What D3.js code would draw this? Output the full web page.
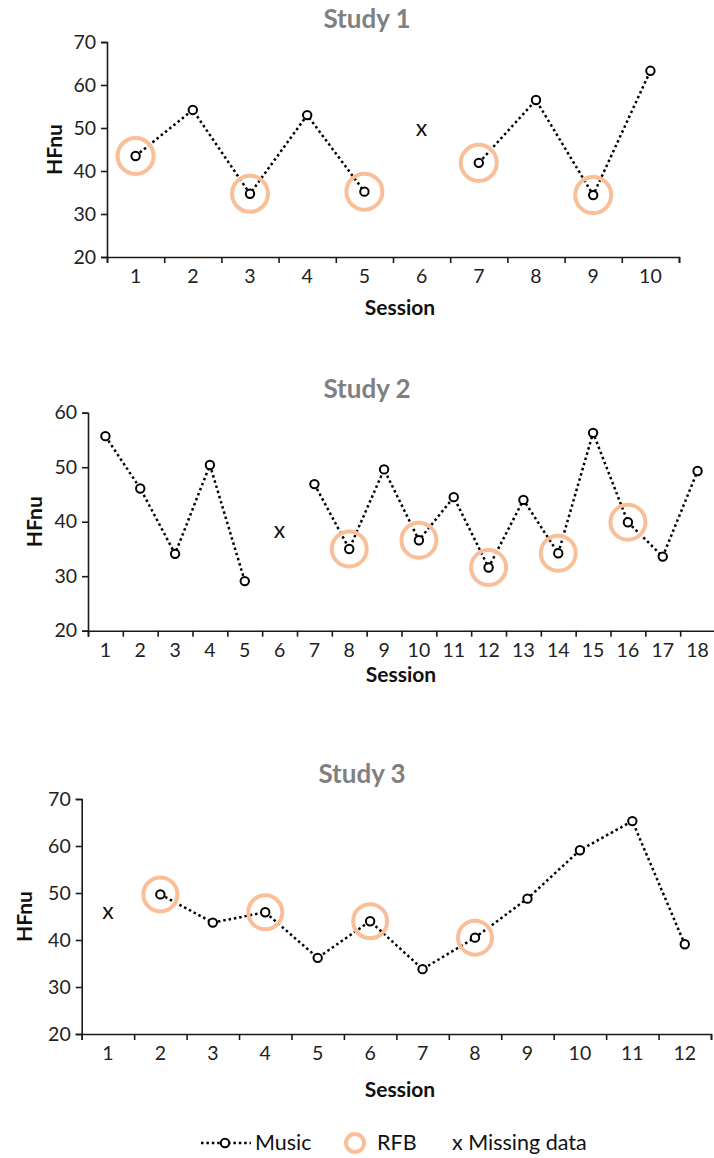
<!DOCTYPE html>
<html>
<head>
<meta charset="utf-8">
<script src="https://cdn.jsdelivr.net/npm/d3@7"></script>
<style>
  body { margin: 0; background: #fff; }
  svg { display: block; font-family: Lato, "Open Sans", sans-serif; }
</style>
</head>
<body>
<svg id="chart" width="714" height="1158"></svg>
<script>
// ------- data -------
const study1Sessions = [1, 2, 3, 4, 5, 6, 7, 8, 9, 10];
const study1Values = [43.5, 54.2, 34.7, 53.0, 35.2, null, 41.9, 56.5, 34.4, 63.3];
const study1Rfb = [1, 3, 5, 7, 9];
const study1Missing = [{ session: 6, value: 50.3 }];

const study2Sessions = [1, 2, 3, 4, 5, 6, 7, 8, 9, 10, 11, 12, 13, 14, 15, 16, 17, 18];
const study2Values = [55.7, 46.1, 34.1, 50.4, 29.1, null, 46.9, 35.0, 49.6, 36.6, 44.5, 31.6, 44.0, 34.2, 56.3, 39.9, 33.6, 49.3];
const study2Rfb = [8, 10, 12, 14, 16];
const study2Missing = [{ session: 6, value: 38.6 }];

const study3Sessions = [1, 2, 3, 4, 5, 6, 7, 8, 9, 10, 11, 12];
const study3Values = [null, 49.7, 43.7, 45.9, 36.2, 44.0, 33.8, 40.5, 48.8, 59.1, 65.3, 39.1];
const study3Rfb = [2, 4, 6, 8];
const study3Missing = [{ session: 1, value: 46.4 }];

const yTicks1 = [20, 30, 40, 50, 60, 70];
const yTicks2 = [20, 30, 40, 50, 60];
const yTicks3 = [20, 30, 40, 50, 60, 70];

const legendLabels = ["Music", "RFB", "x Missing data"];

// ------- layout per panel -------
const panels = [
	{ title: "Study 1", sessions: study1Sessions, values: study1Values, rfb: study1Rfb, missing: study1Missing, yTicks: yTicks1,
	  left: 107, right: 679, top: 42, bottom: 257, titleX: 367, titleY: 28, yLabelX: 53, sessionX: 400, sessionY: 315, ringR: 18 },
	{ title: "Study 2", sessions: study2Sessions, values: study2Values, rfb: study2Rfb, missing: study2Missing, yTicks: yTicks2,
	  left: 88, right: 715, top: 412.7, bottom: 630.7, titleX: 367, titleY: 398, yLabelX: 33, sessionX: 401, sessionY: 682, ringR: 17.5 },
	{ title: "Study 3", sessions: study3Sessions, values: study3Values, rfb: study3Rfb, missing: study3Missing, yTicks: yTicks3,
	  left: 81.7, right: 711, top: 799, bottom: 1034, titleX: 362, titleY: 783, yLabelX: 23, sessionX: 400, sessionY: 1097, ringR: 17 }
];

const ringColor = "#f9bf98";
const inkColor = "#1a1a1a";
const dotDash = "2.5 2.9";

const svg = d3.select("#chart");

panels.forEach(p => drawPanel(p));
drawLegend();

function drawPanel(p) {
	const g = svg.append("g");

	const x = d3.scaleBand().domain(p.sessions).range([p.left, p.right]);
	const xEdges = d3.scaleLinear().domain([0, p.sessions.length]).range([p.left, p.right]);
	const y = d3.scaleLinear().domain(d3.extent(p.yTicks)).range([p.bottom, p.top]);
	const cx = s => x(s) + x.bandwidth() / 2;

	// y axis
	const yAxis = g.append("g")
		.attr("transform", `translate(${p.left},0)`)
		.call(d3.axisLeft(y).tickValues(p.yTicks).tickSize(6).tickPadding(5));
	// x axis: tick marks between categories, labels centred in each band
	const xMarks = g.append("g")
		.attr("transform", `translate(0,${p.bottom})`)
		.call(d3.axisBottom(xEdges).tickValues(d3.range(0, p.sessions.length + 1)).tickSize(6).tickFormat(""));
	const xLabels = g.append("g")
		.attr("transform", `translate(0,${p.bottom})`)
		.call(d3.axisBottom(x).tickSize(0).tickPadding(12));

	[yAxis, xMarks, xLabels].forEach(a => {
		a.select(".domain").attr("stroke", inkColor).attr("stroke-width", 1.6);
		a.selectAll(".tick line").attr("stroke", inkColor).attr("stroke-width", 1.6);
		a.selectAll("text").attr("fill", "#222").style("font-size", "19.5px").style("font-family", "Lato, sans-serif");
	});
	xLabels.select(".domain").remove();

	// title and axis titles
	g.append("text")
		.attr("x", p.titleX).attr("y", p.titleY)
		.attr("text-anchor", "middle")
		.attr("fill", "#808080")
		.style("font-size", "26px").style("font-weight", "bold")
		.text(p.title);

	g.append("text")
		.attr("transform", `translate(${p.yLabelX},${(p.top + p.bottom) / 2}) rotate(-90)`)
		.attr("text-anchor", "middle")
		.attr("dominant-baseline", "central")
		.attr("fill", "#111")
		.style("font-size", "21px").style("font-weight", "bold")
		.text("HFnu");

	g.append("text")
		.attr("x", p.sessionX).attr("y", p.sessionY)
		.attr("text-anchor", "middle")
		.attr("fill", "#111")
		.style("font-size", "21px").style("font-weight", "bold")
		.text("Session");

	// dotted line, broken where a session is missing
	const pts = p.sessions.map((s, i) => ({ session: s, value: p.values[i] }));
	const line = d3.line()
		.defined(d => d.value != null)
		.x(d => cx(d.session))
		.y(d => y(d.value));

	g.append("path")
		.datum(pts)
		.attr("d", line)
		.attr("fill", "none")
		.attr("stroke", "#000")
		.attr("stroke-width", 2.5)
		.attr("stroke-dasharray", dotDash);

	// RFB rings
	g.selectAll(".ring")
		.data(pts.filter(d => p.rfb.includes(d.session)))
		.join("circle")
		.attr("class", "ring")
		.attr("cx", d => cx(d.session))
		.attr("cy", d => y(d.value))
		.attr("r", p.ringR)
		.attr("fill", "none")
		.attr("stroke", ringColor)
		.attr("stroke-width", 4);

	// open markers
	g.selectAll(".marker")
		.data(pts.filter(d => d.value != null))
		.join("circle")
		.attr("class", "marker")
		.attr("cx", d => cx(d.session))
		.attr("cy", d => y(d.value))
		.attr("r", 4.2)
		.attr("fill", "#fff")
		.attr("stroke", "#000")
		.attr("stroke-width", 2);

	// missing sessions
	g.selectAll(".missing")
		.data(p.missing)
		.join("text")
		.attr("class", "missing")
		.attr("x", d => cx(d.session))
		.attr("y", d => y(d.value))
		.attr("text-anchor", "middle")
		.attr("dominant-baseline", "central")
		.attr("fill", "#111")
		.style("font-size", "23px")
		.text("x");
}

function drawLegend() {
	const lg = svg.append("g").attr("transform", "translate(0,1143)");

	lg.append("line")
		.attr("x1", 201).attr("x2", 251)
		.attr("stroke", "#000").attr("stroke-width", 2.5)
		.attr("stroke-dasharray", dotDash);
	lg.append("circle")
		.attr("cx", 225).attr("r", 4.2)
		.attr("fill", "#fff").attr("stroke", "#000").attr("stroke-width", 2);
	lg.append("circle")
		.attr("cx", 355).attr("r", 9)
		.attr("fill", "none").attr("stroke", ringColor).attr("stroke-width", 4);

	lg.selectAll(".legend-text")
		.data(legendLabels)
		.join("text")
		.attr("class", "legend-text")
		.attr("x", (d, i) => [255, 377, 452][i])
		.attr("y", 7)
		.attr("fill", "#111")
		.style("font-size", "21.5px")
		.text(d => d);
}
</script>
</body>
</html>
